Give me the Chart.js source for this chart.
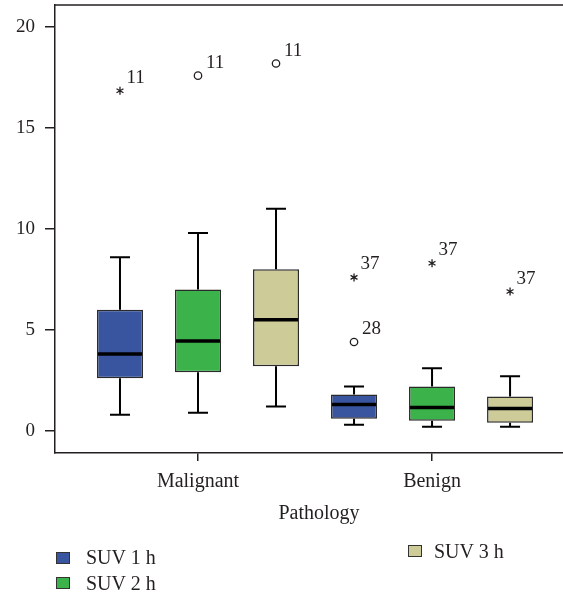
<!DOCTYPE html>
<html>
<head>
<meta charset="utf-8">
<title>SUV by pathology</title>
<script src="https://cdn.jsdelivr.net/npm/chart.js@4.4.1/dist/chart.umd.min.js"></script>
<style>
    body { margin: 0; background: #fff; }
    #wrap { position: relative; width: 563px; height: 596px; overflow: hidden; }
    #chart { position: absolute; left: 0; top: 0; }
    .swatch { position: absolute; width: 12px; height: 10px; border: 1px solid #333; }
    .legend-text {
        position: absolute; line-height: 20px; white-space: nowrap;
        font: 20px 'Liberation Serif', 'DejaVu Serif', serif; color: #231f20;
    }
</style>
</head>
<body>
<div id="wrap">
    <canvas id="chart" width="583" height="596"></canvas>
    <div class="swatch" style="left:56px; top:552px; background:#3a55a0"></div>
    <div class="legend-text" style="left:86px; top:546px">SUV 1 h</div>
    <div class="swatch" style="left:56px; top:577px; background:#3bb34a"></div>
    <div class="legend-text" style="left:86px; top:572px">SUV 2 h</div>
    <div class="swatch" style="left:408px; top:545px; background:#cdcb98"></div>
    <div class="legend-text" style="left:434px; top:540px">SUV 3 h</div>
</div>
<script>
// categories and series
const categories = ['Malignant', 'Benign'];
const seriesNames = ['SUV 1 h', 'SUV 2 h', 'SUV 3 h'];
const seriesColors = ['#3a55a0', '#3bb34a', '#cdcb98'];
const yTicks = [0, 5, 10, 15, 20];

// box statistics per category: [lower whisker, Q1, median, Q3, upper whisker]
const suv1Stats = [[0.8, 2.6, 3.8, 6.0, 8.6], [0.3, 0.6, 1.3, 1.8, 2.2]];
const suv2Stats = [[0.9, 2.9, 4.45, 7.0, 9.8], [0.2, 0.5, 1.15, 2.2, 3.1]];
const suv3Stats = [[1.2, 3.2, 5.5, 8.0, 11.0], [0.2, 0.4, 1.1, 1.7, 2.7]];

// outliers per category: [value, marker, case number]
const suv1Outliers = [[[16.85, '*', '11']], [[7.6, '*', '37'], [4.4, 'o', '28']]];
const suv2Outliers = [[[17.6, 'o', '11']], [[8.3, '*', '37']]];
const suv3Outliers = [[[18.2, 'o', '11']], [[6.9, '*', '37']]];

const allStats = [suv1Stats, suv2Stats, suv3Stats];
const allOutliers = [suv1Outliers, suv2Outliers, suv3Outliers];

const FONT = "'Liberation Serif', 'DejaVu Serif', serif";
const INK = '#231f20';

/**
 * Draws whiskers, medians and outliers on top of the floating bars
 */
const boxPlotPlugin = {
    id: 'boxPlot',
    afterDatasetsDraw(chart) {
        const ctx = chart.ctx;
        const yScale = chart.scales.y;
        ctx.save();
        chart.data.datasets.forEach((ds, i) => {
            chart.getDatasetMeta(i).data.forEach((bar, j) => {
                const [lo, q1, med, q3, hi] = ds.stats[j];
                const x = bar.x;
                const half = bar.width / 2;
                ctx.strokeStyle = '#000';
                ctx.lineWidth = 2;
                ctx.beginPath();
                ctx.moveTo(x, yScale.getPixelForValue(hi));
                ctx.lineTo(x, yScale.getPixelForValue(q3));
                ctx.moveTo(x, yScale.getPixelForValue(q1));
                ctx.lineTo(x, yScale.getPixelForValue(lo));
                ctx.moveTo(x - 10, yScale.getPixelForValue(hi));
                ctx.lineTo(x + 10, yScale.getPixelForValue(hi));
                ctx.moveTo(x - 10, yScale.getPixelForValue(lo));
                ctx.lineTo(x + 10, yScale.getPixelForValue(lo));
                ctx.stroke();

                ctx.lineWidth = 3.5;
                ctx.beginPath();
                ctx.moveTo(x - half + 1, yScale.getPixelForValue(med));
                ctx.lineTo(x + half - 1, yScale.getPixelForValue(med));
                ctx.stroke();

                ds.outliers[j].forEach(([v, marker, label]) => {
                    const py = yScale.getPixelForValue(v);
                    ctx.lineWidth = 1.3;
                    ctx.strokeStyle = INK;
                    ctx.beginPath();
                    if (marker === 'o') {
                        ctx.arc(x, py, 3.7, 0, Math.PI * 2);
                    } else {
                        for (let k = 0; k < 3; k++) {
                            const a = Math.PI / 2 + k * Math.PI / 3;
                            ctx.moveTo(x - 4 * Math.cos(a), py - 4 * Math.sin(a));
                            ctx.lineTo(x + 4 * Math.cos(a), py + 4 * Math.sin(a));
                        }
                    }
                    ctx.stroke();
                    ctx.fillStyle = INK;
                    ctx.font = '19px ' + FONT;
                    ctx.textBaseline = 'middle';
                    ctx.textAlign = 'left';
                    ctx.fillText(label, x + (marker === 'o' ? 8 : 6.5), py - 13);
                });
            });
        });
        // top frame line
        const area = chart.chartArea;
        ctx.strokeStyle = INK;
        ctx.lineWidth = 1.5;
        ctx.beginPath();
        ctx.moveTo(area.left, area.top);
        ctx.lineTo(area.right, area.top);
        ctx.stroke();
        ctx.restore();
    }
};

new Chart(document.getElementById('chart'), {
    type: 'bar',
    data: {
        datasets: seriesNames.map((name, i) => ({
            label: name,
            data: allStats[i].map((s, j) => ({ x: j, y: [s[1], s[3]] })),
            stats: allStats[i],
            outliers: allOutliers[i],
            backgroundColor: seriesColors[i],
            borderColor: '#2b2b2b',
            borderWidth: 1.5,
            borderSkipped: false,
            categoryPercentage: 1.0,
            barPercentage: 0.59
        }))
    },
    options: {
        responsive: false,
        animation: false,
        layout: {
            padding: { left: 0, top: 5, right: 0, bottom: 0 }
        },
        plugins: {
            legend: { display: false },
            tooltip: { enabled: false }
        },
        scales: {
            x: {
                type: 'linear',
                min: -0.611,
                max: 1.645,
                offset: false,
                grid: { offset: false, drawOnChartArea: false, tickLength: 8, color: INK, lineWidth: 1.5 },
                border: { color: INK, width: 1.5 },
                ticks: {
                    color: INK,
                    font: { family: FONT, size: 20 },
                    padding: 9,
                    callback: v => categories[v]
                },
                afterBuildTicks(scale) {
                    scale.ticks = categories.map((c, j) => ({ value: j }));
                },
                title: {
                    display: true,
                    text: 'Pathology',
                    color: INK,
                    font: { family: FONT, size: 20 },
                    padding: { top: 4, bottom: 70 }
                },
                afterFit(scale) {
                    scale.height = 143;
                    scale.paddingLeft = 0;
                    scale.paddingRight = 0;
                }
            },
            y: {
                min: -1.1,
                max: 21.1,
                grid: { drawOnChartArea: false, tickLength: 10, color: INK, lineWidth: 1.5 },
                border: { color: INK, width: 1.5 },
                ticks: { color: INK, font: { family: FONT, size: 19 }, padding: 10 },
                afterBuildTicks(scale) {
                    scale.ticks = yTicks.map(v => ({ value: v }));
                },
                afterFit(scale) {
                    scale.width = 55;
                    scale.paddingTop = 0;
                    scale.paddingBottom = 0;
                }
            }
        }
    },
    plugins: [boxPlotPlugin]
});
</script>
</body>
</html>
